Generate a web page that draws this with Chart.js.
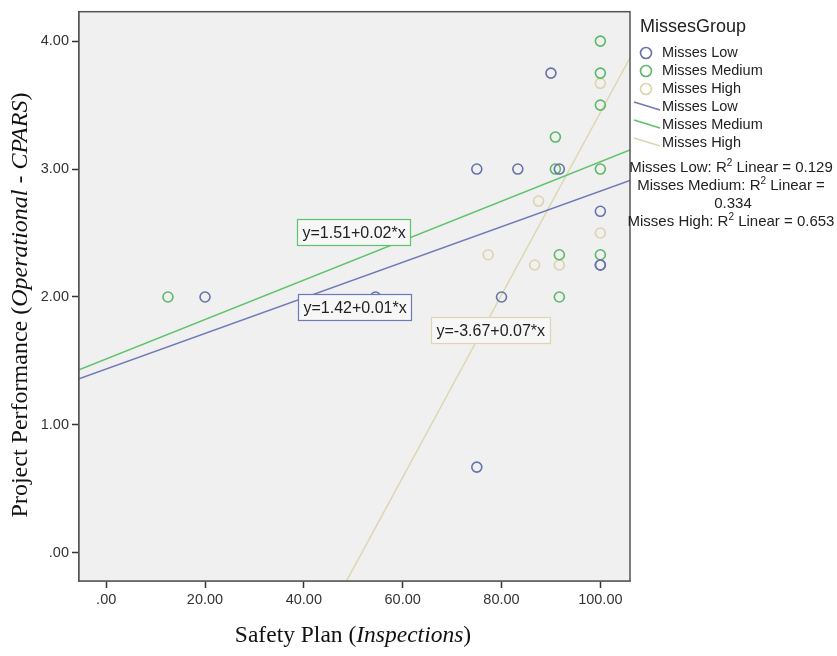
<!DOCTYPE html>
<html>
<head>
<meta charset="utf-8">
<script src="https://cdn.jsdelivr.net/npm/chart.js@4.4.1/dist/chart.umd.min.js"></script>
<style>
  html, body { margin: 0; padding: 0; background: #fff; }
  #wrap { width: 837px; height: 656px; position: relative; }
</style>
</head>
<body>
<div id="wrap"><canvas id="myChart" width="837" height="656"></canvas></div>
<script>
// values
const groups = ['Misses Low', 'Misses Medium', 'Misses High'];

const lowX = [20, 54.5, 75, 75, 80, 83.3, 90, 91.7, 100, 100, 100];
const lowY = [2.00, 2.00, 3.00, 0.67, 2.00, 3.00, 3.75, 3.00, 2.67, 2.25, 2.25];

const medX = [12.5, 90.9, 90.9, 91.7, 91.7, 100, 100, 100, 100, 100];
const medY = [2.00, 3.25, 3.00, 2.33, 2.00, 4.00, 3.75, 3.50, 3.00, 2.33];

const highX = [77.3, 86.7, 87.5, 91.7, 100, 100];
const highY = [2.33, 2.25, 2.75, 2.25, 3.67, 2.50];

// fit lines, end points at the edges of the plot
const fitX = [-5.5, 106];
const lowFitY = [1.36, 2.91];
const medFitY = [1.43, 3.15];
const highFitY = [-4.08, 3.87];

const fitLabels = ['y=1.42+0.01*x', 'y=1.51+0.02*x', 'y=-3.67+0.07*x'];
const rSquared = ['0.129', '0.334', '0.653'];

const xTicks = [0, 20, 40, 60, 80, 100];
const yTicks = [0, 1, 2, 3, 4];

const pointColors = ['#6672aa', '#5cb867', '#ddd3ac'];
const lineColors = ['#6f7ab8', '#5dc46c', '#ddd6b0'];

const SANS = '"Liberation Sans", Arial, sans-serif';
const SERIF = '"Liberation Serif", "Times New Roman", serif';

const toPoints = (xs, ys) => xs.map((x, i) => ({ x: x, y: ys[i] }));
const fmt = (v) => {
    const s = v.toFixed(2);
    return s.startsWith('0') ? s.slice(1) : s;
};

// background, frame, fit labels, titles and legend
const extras = {
    id: 'extras',
    beforeDatasetsDraw(chart) {
        const { ctx, chartArea: a } = chart;
        ctx.save();
        ctx.fillStyle = '#f0f0f0';
        ctx.fillRect(a.left, a.top, a.right - a.left, a.bottom - a.top);
        ctx.restore();
    },
    afterDatasetsDraw(chart) {
        const { ctx, chartArea: a, scales } = chart;
        const xs = scales.x, ys = scales.y;

        // fit equation boxes, anchored at their top-left corner
        const anchors = [[38.8, 2.02], [38.6, 2.61], [65.7, 1.84]];
        ctx.save();
        ctx.font = '16px ' + SANS;
        ctx.textBaseline = 'middle';
        fitLabels.forEach((t, i) => {
            const px = Math.round(xs.getPixelForValue(anchors[i][0])) + 0.5;
            const py = Math.round(ys.getPixelForValue(anchors[i][1])) + 0.5;
            const w = Math.round(ctx.measureText(t).width) + 10;
            const h = 26;
            ctx.fillStyle = '#f7f7f7';
            ctx.fillRect(px, py, w, h);
            ctx.strokeStyle = lineColors[i];
            ctx.lineWidth = 1.2;
            ctx.strokeRect(px, py, w, h);
            ctx.fillStyle = '#222';
            ctx.fillText(t, px + 5, py + h / 2 + 1);
        });

        // frame round the plot
        ctx.strokeStyle = '#555';
        ctx.lineWidth = 1.5;
        ctx.strokeRect(a.left, a.top, a.right - a.left, a.bottom - a.top);
        ctx.restore();
    },
    afterDraw(chart) {
        const { ctx } = chart;
        ctx.save();
        ctx.fillStyle = '#111';
        ctx.textBaseline = 'middle';

        // x title
        const xParts = [['Safety Plan (', false], ['Inspections', true], [')', false]];
        drawParts(ctx, xParts, 353, 636, 23.5);

        // y title, rotated
        ctx.save();
        ctx.translate(21, 305);
        ctx.rotate(-Math.PI / 2);
        const yParts = [['Project Performance (', false], ['Operational - CPARS', true], [')', false]];
        drawParts(ctx, yParts, 0, 0, 24);
        ctx.restore();

        // legend
        ctx.fillStyle = '#222';
        ctx.textAlign = 'left';
        ctx.font = '18px ' + SANS;
        ctx.fillText('MissesGroup', 640, 27);
        ctx.font = '14.5px ' + SANS;
        groups.forEach((g, i) => {
            const y = 53 + i * 18;
            ctx.beginPath();
            ctx.arc(646, y, 5.5, 0, Math.PI * 2);
            ctx.strokeStyle = pointColors[i];
            ctx.lineWidth = 1.6;
            ctx.stroke();
            ctx.fillText(g, 662, y);
        });
        groups.forEach((g, i) => {
            const y = 107 + i * 18;
            ctx.beginPath();
            ctx.moveTo(634, y - 5);
            ctx.lineTo(660, y + 3);
            ctx.strokeStyle = lineColors[i];
            ctx.lineWidth = 1.5;
            ctx.stroke();
            ctx.fillText(g, 662, y);
        });

        // R squared notes, centred in the legend column
        const cx = 731;
        drawR2(ctx, groups[0] + ': R', ' Linear = ' + rSquared[0], cx, 168);
        drawR2(ctx, groups[1] + ': R', ' Linear =', cx, 186);
        ctx.textAlign = 'center';
        ctx.font = '15px ' + SANS;
        ctx.fillText(rSquared[1], cx + 2, 204);
        ctx.textAlign = 'left';
        drawR2(ctx, groups[2] + ': R', ' Linear = ' + rSquared[2], cx, 222);
        ctx.restore();
    }
};

function drawParts(ctx, parts, cx, cy, size) {
    let total = 0;
    parts.forEach(p => {
        ctx.font = (p[1] ? 'italic ' : '') + size + 'px ' + SERIF;
        total += ctx.measureText(p[0]).width;
    });
    let x = cx - total / 2;
    ctx.textAlign = 'left';
    parts.forEach(p => {
        ctx.font = (p[1] ? 'italic ' : '') + size + 'px ' + SERIF;
        ctx.fillText(p[0], x, cy);
        x += ctx.measureText(p[0]).width;
    });
}

function drawR2(ctx, before, after, cx, y) {
    ctx.font = '15px ' + SANS;
    const w1 = ctx.measureText(before).width;
    const w3 = ctx.measureText(after).width;
    ctx.font = '10px ' + SANS;
    const w2 = ctx.measureText('2').width;
    let x = cx - (w1 + w2 + w3) / 2;
    ctx.textAlign = 'left';
    ctx.font = '15px ' + SANS;
    ctx.fillText(before, x, y);
    x += w1;
    ctx.font = '10px ' + SANS;
    ctx.fillText('2', x, y - 5);
    x += w2;
    ctx.font = '15px ' + SANS;
    ctx.fillText(after, x, y);
}

const scatterSet = (i, xs, ys) => ({
    type: 'scatter',
    label: groups[i],
    data: toPoints(xs, ys),
    borderColor: pointColors[i],
    backgroundColor: 'rgba(0,0,0,0)',
    borderWidth: 1.6,
    pointRadius: 5,
    pointHoverRadius: 5
});

const fitSet = (i, ys) => ({
    type: 'line',
    label: groups[i] + ' fit',
    data: toPoints(fitX, ys),
    borderColor: lineColors[i],
    borderWidth: 1.5,
    pointRadius: 0,
    fill: false,
    showLine: true
});

var ctx = document.getElementById('myChart').getContext('2d');

var myChart = new Chart(ctx, {
    type: 'scatter',
    data: {
        datasets: [
            scatterSet(0, lowX, lowY),
            scatterSet(1, medX, medY),
            scatterSet(2, highX, highY),
            fitSet(0, lowFitY),
            fitSet(1, medFitY),
            fitSet(2, highFitY)
        ]
    },
    options: {
        responsive: false,
        animation: false,
        layout: { padding: { top: 8, right: 207, left: 0, bottom: 0 } },
        plugins: { legend: { display: false }, tooltip: { enabled: false } },
        scales: {
            x: {
                type: 'linear',
                min: -5.5,
                max: 106,
                afterFit: (s) => { s.height = 75; },
                afterBuildTicks: (s) => { s.ticks = xTicks.map(v => ({ value: v })); },
                grid: { drawOnChartArea: false, tickLength: 7, tickColor: '#333', tickWidth: 1.5 },
                border: { color: '#555', width: 1.5 },
                ticks: {
                    callback: (v) => fmt(v),
                    color: '#333',
                    padding: 3,
                    maxRotation: 0,
                    font: { family: SANS, size: 14.5 }
                }
            },
            y: {
                type: 'linear',
                min: -0.22,
                max: 4.23,
                afterFit: (s) => { s.width = 79; },
                afterBuildTicks: (s) => { s.ticks = yTicks.map(v => ({ value: v })); },
                grid: { drawOnChartArea: false, tickLength: 7, tickColor: '#333', tickWidth: 1.5 },
                border: { color: '#555', width: 1.5 },
                ticks: {
                    callback: (v) => fmt(v),
                    color: '#333',
                    padding: 3,
                    font: { family: SANS, size: 14.5 }
                }
            }
        }
    },
    plugins: [extras]
});

myChart;
</script>
</body>
</html>
